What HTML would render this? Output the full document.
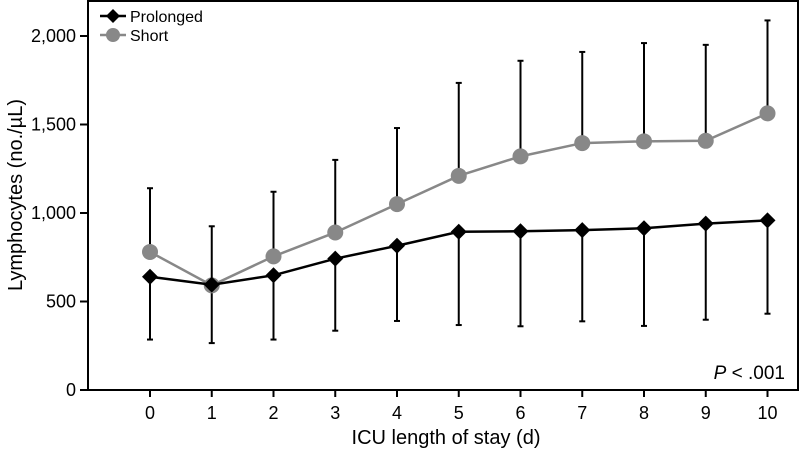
<!DOCTYPE html>
<html><head><meta charset="utf-8"><style>
body{margin:0;background:#fff;font-family:"Liberation Sans",Arial,sans-serif}
svg text{font-family:"Liberation Sans",Arial,sans-serif}
</style></head><body>
<svg id="chart" width="800" height="460" viewBox="0 0 800 460" xmlns="http://www.w3.org/2000/svg">
<rect x="88" y="1" width="710" height="389" fill="none" stroke="#000" stroke-width="2"/>
<g id="axes"></g>
<g id="marks"></g>
<text x="446" y="444" font-size="20" text-anchor="middle">ICU length of stay (d)</text>
<text transform="translate(22,195) rotate(-90)" font-size="20" text-anchor="middle">Lymphocytes (no./µL)</text>
<text x="785" y="379" font-size="19" text-anchor="end"><tspan font-style="italic">P</tspan> &lt; .001</text>
<g>
<line x1="100" y1="16" x2="126" y2="16" stroke="#000" stroke-width="2.5"/>
<path d="M113 9 L120 16 L113 23 L106 16 Z" fill="#000"/>
<text x="130" y="22" font-size="16">Prolonged</text>
<line x1="100" y1="35" x2="126" y2="35" stroke="#888" stroke-width="2.5"/>
<circle cx="113" cy="35" r="7" fill="#888"/>
<text x="130" y="41" font-size="16">Short</text>
</g>
</svg>
<script>
const days=[0,1,2,3,4,5,6,7,8,9,10];
const yTicks=[0,500,1000,1500,2000];
const yTickLabels=["0","500","1,000","1,500","2,000"];
const shortMean=[780,591,755,890,1050,1210,1320,1395,1405,1408,1563];
const shortUpper=[1140,925,1120,1300,1480,1735,1860,1910,1960,1950,2088];
const prolongedMean=[640,595,648,742,815,894,897,903,914,940,958];
const prolongedLower=[285,265,285,335,390,367,360,388,362,397,431];
const NS="http://www.w3.org/2000/svg";
function x(d){return 150+61.75*d;}
function y(v){return 390-v*0.177;}
function mk(tag,attrs,parent){const e=document.createElementNS(NS,tag);for(const k in attrs)e.setAttribute(k,attrs[k]);parent.appendChild(e);return e;}
const axes=document.getElementById('axes'),marks=document.getElementById('marks');
yTicks.forEach((v,i)=>{
 const t=mk('line',{x1:80,x2:88,y1:y(v),y2:y(v),stroke:'#000','stroke-width':2},axes);
 
 
 const l=mk('text',{x:76,y:y(v)+6,'font-size':18,'text-anchor':'end'},axes);l.textContent=yTickLabels[i];
 
 
});
days.forEach(d=>{
 const t=mk('line',{x1:x(d),x2:x(d),y1:390,y2:397,stroke:'#000','stroke-width':2},axes);
 
 
 const l=mk('text',{x:x(d),y:419,'font-size':18,'text-anchor':'middle'},axes);l.textContent=d;
 
 
});
function errbar(d,a,b){
 const g=mk('g',{stroke:'#000','stroke-width':2},marks);
 
 
 mk('line',{x1:x(d),x2:x(d),y1:y(a),y2:y(b)},g);
 mk('line',{x1:x(d)-3,x2:x(d)+3,y1:y(b),y2:y(b)},g);
}
days.forEach((d,i)=>{errbar(d,shortMean[i],shortUpper[i]);errbar(d,prolongedMean[i],prolongedLower[i]);});
const sl=mk('polyline',{points:days.map((d,i)=>x(d)+','+y(shortMean[i])).join(' '),fill:'none',stroke:'#888','stroke-width':2.5},marks);


days.forEach((d,i)=>{const c=mk('circle',{cx:x(d),cy:y(shortMean[i]),r:8,fill:'#888'},marks);
 
 });
const pl=mk('polyline',{points:days.map((d,i)=>x(d)+','+y(prolongedMean[i])).join(' '),fill:'none',stroke:'#000','stroke-width':2.5},marks);


days.forEach((d,i)=>{const cx=x(d),cy=y(prolongedMean[i]);
 const p=mk('path',{d:`M${cx} ${cy-8} L${cx+8} ${cy} L${cx} ${cy+8} L${cx-8} ${cy} Z`,fill:'#000'},marks);
 
 });
</script>
</body></html>
